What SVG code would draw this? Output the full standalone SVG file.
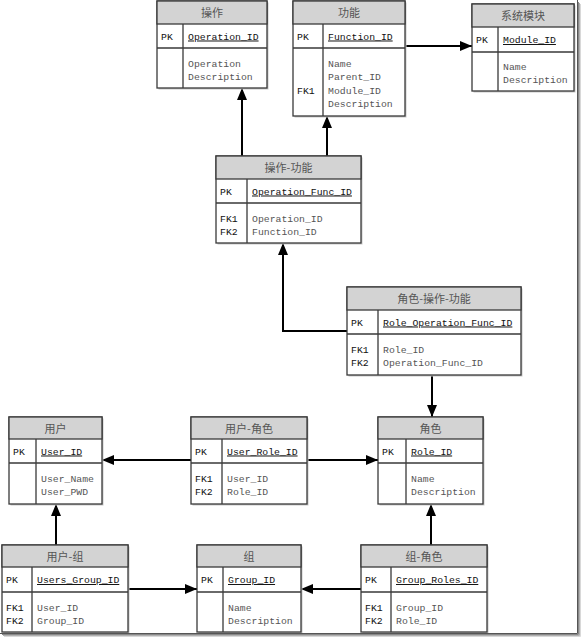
<svg xmlns="http://www.w3.org/2000/svg" width="581" height="637" viewBox="0 0 581 637">
<defs>
<marker id="ah" markerWidth="12" markerHeight="10" refX="12" refY="5" orient="auto" markerUnits="userSpaceOnUse">
<path d="M0,0 L12,5 L0,10 Z" fill="#000"/>
</marker>
<style>
.shadow{fill:#c8c8c8}
.box{fill:#fff;stroke:#3a3a3a;stroke-width:1.3}
.hdr{fill:#d3d3d3;stroke:#3a3a3a;stroke-width:1.3}
.sep{stroke:#3a3a3a;stroke-width:1.3;fill:none}
.h{font-family:"Noto Sans CJK SC","Liberation Sans",sans-serif;font-size:11px;fill:#555;text-anchor:middle}
.k{font-family:"Liberation Mono",monospace;font-size:9.8px;fill:#111}
.pk{font-family:"Liberation Mono",monospace;font-size:9.8px;fill:#111;text-decoration:underline}
.f{font-family:"Liberation Mono",monospace;font-size:9.8px;fill:#555}
.c{stroke:#000;stroke-width:2;fill:none;marker-end:url(#ah)}
</style>
</defs>
<rect width="581" height="637" fill="#fff"/>

<g id="connectors">
<path class="c" d="M405,46 H472"/>
<path class="c" d="M242,156 V88"/>
<path class="c" d="M327,156 V116"/>
<path class="c" d="M347,331 H283 V243"/>
<path class="c" d="M432,375 V417"/>
<path class="c" d="M191,460 H102"/>
<path class="c" d="M307,460 H378"/>
<path class="c" d="M431,545 V504"/>
<path class="c" d="M56,545 V504"/>
<path class="c" d="M128,589 H197"/>
<path class="c" d="M361,589 H301"/>
</g>

<g id="t-op">
<rect class="shadow" x="158.5" y="2.5" width="110" height="87"/>
<rect class="box" x="157" y="1" width="110" height="87"/>
<rect class="hdr" x="157" y="1" width="110" height="23"/>
<path class="sep" d="M157,48 H267 M183,24 V88"/>
<text class="h" x="212" y="17">操作</text>
<text class="k" x="161" y="39.5">PK</text>
<text class="pk" x="188" y="39.5">Operation_ID</text>
<text class="f" x="188" y="66.5">Operation</text>
<text class="f" x="188" y="80">Description</text>
</g>

<g id="t-func">
<rect class="shadow" x="294.5" y="2.5" width="112" height="115"/>
<rect class="box" x="293" y="1" width="112" height="115"/>
<rect class="hdr" x="293" y="1" width="112" height="23"/>
<path class="sep" d="M293,48 H405 M323,24 V116"/>
<text class="h" x="349" y="17">功能</text>
<text class="k" x="297" y="39.5">PK</text>
<text class="pk" x="328" y="39.5">Function_ID</text>
<text class="f" x="328" y="66.5">Name</text>
<text class="f" x="328" y="80">Parent_ID</text>
<text class="k" x="297" y="93.5">FK1</text>
<text class="f" x="328" y="93.5">Module_ID</text>
<text class="f" x="328" y="107">Description</text>
</g>

<g id="t-module">
<rect class="shadow" x="473.5" y="5.5" width="102" height="87"/>
<rect class="box" x="472" y="4" width="102" height="87"/>
<rect class="hdr" x="472" y="4" width="102" height="23"/>
<path class="sep" d="M472,52 H574 M498,27 V91"/>
<text class="h" x="523" y="20">系统模块</text>
<text class="k" x="476" y="43">PK</text>
<text class="pk" x="503" y="43">Module_ID</text>
<text class="f" x="503" y="69.5">Name</text>
<text class="f" x="503" y="83">Description</text>
</g>

<g id="t-opfunc">
<rect class="shadow" x="217.5" y="157.5" width="145" height="87"/>
<rect class="box" x="216" y="156" width="145" height="87"/>
<rect class="hdr" x="216" y="156" width="145" height="23"/>
<path class="sep" d="M216,203 H361 M247,179 V243"/>
<text class="h" x="288.5" y="172">操作-功能</text>
<text class="k" x="220" y="194.5">PK</text>
<text class="pk" x="252" y="194.5">Operation_Func_ID</text>
<text class="k" x="220" y="221.5">FK1</text>
<text class="f" x="252" y="221.5">Operation_ID</text>
<text class="k" x="220" y="235">FK2</text>
<text class="f" x="252" y="235">Function_ID</text>
</g>

<g id="t-rof">
<rect class="shadow" x="348.5" y="288.5" width="174" height="88"/>
<rect class="box" x="347" y="287" width="174" height="88"/>
<rect class="hdr" x="347" y="287" width="174" height="23"/>
<path class="sep" d="M347,334 H521 M378,310 V375"/>
<text class="h" x="434" y="303">角色-操作-功能</text>
<text class="k" x="351" y="325.5">PK</text>
<text class="pk" x="383" y="325.5">Role_Operation_Func_ID</text>
<text class="k" x="351" y="352.5">FK1</text>
<text class="f" x="383" y="352.5">Role_ID</text>
<text class="k" x="351" y="366">FK2</text>
<text class="f" x="383" y="366">Operation_Func_ID</text>
</g>

<g id="t-user">
<rect class="shadow" x="10.5" y="418.5" width="93" height="87"/>
<rect class="box" x="9" y="417" width="93" height="87"/>
<rect class="hdr" x="9" y="417" width="93" height="22"/>
<path class="sep" d="M9,463 H102 M36,439 V504"/>
<text class="h" x="55.5" y="432.5">用户</text>
<text class="k" x="13" y="454.5">PK</text>
<text class="pk" x="41" y="454.5">User_ID</text>
<text class="f" x="41" y="481.5">User_Name</text>
<text class="f" x="41" y="495">User_PWD</text>
</g>

<g id="t-userrole">
<rect class="shadow" x="192.5" y="418.5" width="116" height="87"/>
<rect class="box" x="191" y="417" width="116" height="87"/>
<rect class="hdr" x="191" y="417" width="116" height="22"/>
<path class="sep" d="M191,463 H307 M222,439 V504"/>
<text class="h" x="249" y="432.5">用户-角色</text>
<text class="k" x="195" y="454.5">PK</text>
<text class="pk" x="227" y="454.5">User_Role_ID</text>
<text class="k" x="195" y="481.5">FK1</text>
<text class="f" x="227" y="481.5">User_ID</text>
<text class="k" x="195" y="495">FK2</text>
<text class="f" x="227" y="495">Role_ID</text>
</g>

<g id="t-role">
<rect class="shadow" x="379.5" y="418.5" width="105" height="87"/>
<rect class="box" x="378" y="417" width="105" height="87"/>
<rect class="hdr" x="378" y="417" width="105" height="22"/>
<path class="sep" d="M378,463 H483 M406,439 V504"/>
<text class="h" x="430.5" y="432.5">角色</text>
<text class="k" x="382" y="454.5">PK</text>
<text class="pk" x="411" y="454.5">Role_ID</text>
<text class="f" x="411" y="481.5">Name</text>
<text class="f" x="411" y="495">Description</text>
</g>

<g id="t-usergroup">
<rect class="shadow" x="3.5" y="546.5" width="126" height="87"/>
<rect class="box" x="2" y="545" width="126" height="87"/>
<rect class="hdr" x="2" y="545" width="126" height="22"/>
<path class="sep" d="M2,592 H128 M32,567 V632"/>
<text class="h" x="65" y="560.5">用户-组</text>
<text class="k" x="6" y="583">PK</text>
<text class="pk" x="37" y="583">Users_Group_ID</text>
<text class="k" x="6" y="610.5">FK1</text>
<text class="f" x="37" y="610.5">User_ID</text>
<text class="k" x="6" y="624">FK2</text>
<text class="f" x="37" y="624">Group_ID</text>
</g>

<g id="t-group">
<rect class="shadow" x="198.5" y="546.5" width="104" height="87"/>
<rect class="box" x="197" y="545" width="104" height="87"/>
<rect class="hdr" x="197" y="545" width="104" height="22"/>
<path class="sep" d="M197,592 H301 M223,567 V632"/>
<text class="h" x="249" y="560.5">组</text>
<text class="k" x="201" y="583">PK</text>
<text class="pk" x="228" y="583">Group_ID</text>
<text class="f" x="228" y="610.5">Name</text>
<text class="f" x="228" y="624">Description</text>
</g>

<g id="t-grouprole">
<rect class="shadow" x="362.5" y="546.5" width="126" height="87"/>
<rect class="box" x="361" y="545" width="126" height="87"/>
<rect class="hdr" x="361" y="545" width="126" height="22"/>
<path class="sep" d="M361,592 H487 M391,567 V632"/>
<text class="h" x="424" y="560.5">组-角色</text>
<text class="k" x="365" y="583">PK</text>
<text class="pk" x="396" y="583">Group_Roles_ID</text>
<text class="k" x="365" y="610.5">FK1</text>
<text class="f" x="396" y="610.5">Group_ID</text>
<text class="k" x="365" y="624">FK2</text>
<text class="f" x="396" y="624">Role_ID</text>
</g>

<g id="frame" fill="none">
<path d="M577.5,0 V633.5 H0" stroke="#555" stroke-width="1"/>
<path d="M578.5,2 V634.5 H2" stroke="#888" stroke-width="1"/>
<path d="M579.5,3 V635.5 H3" stroke="#b0b0b0" stroke-width="1"/>
<path d="M580.5,4 V636.5 H4" stroke="#d8d8d8" stroke-width="1"/>
</g>
</svg>
